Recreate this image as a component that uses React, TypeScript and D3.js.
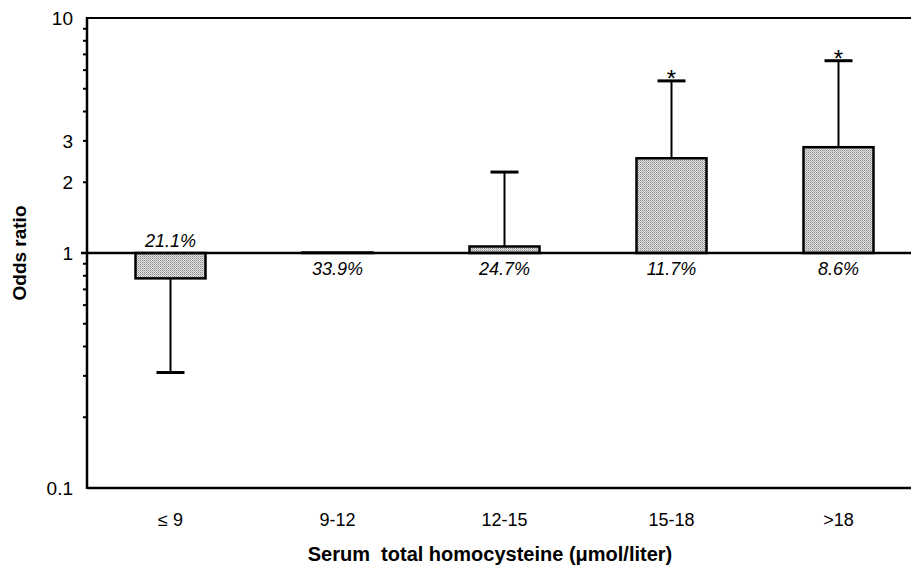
import { useEffect, useRef } from "react";
import * as d3 from "d3";

const categories = ["≤ 9", "9-12", "12-15", "15-18", ">18"];
const oddsRatios = [0.78, 1.005, 1.066, 2.53, 2.82];
const ciBounds: (number | null)[] = [0.31, null, 2.21, 5.4, 6.58];
const percents = ["21.1%", "33.9%", "24.7%", "11.7%", "8.6%"];
const significant = [false, false, false, true, true];
const labeledTicks = [10, 3, 2, 1, 0.1];
const minorTicks = [9, 8, 7, 6, 5, 4, 0.9, 0.8, 0.7, 0.6, 0.5, 0.4, 0.3, 0.2];

const width = 911;
const height = 566;
const font = "'Liberation Sans', Arial, Helvetica, sans-serif";

export default function App() {
  const svgRef = useRef<SVGSVGElement>(null);

  useEffect(() => {
    document.body.style.margin = "0";
    if (!svgRef.current) return;
    const svg = d3.select(svgRef.current);
    svg.selectAll("*").remove();

    const left = 87;
    const top = 18;
    const bottom = 488;

    const x = d3.scaleBand<string>().domain(categories).range([left, 922]).padding(0);
    const y = d3.scaleLog().domain([0.1, 10]).range([bottom, top]);
    const barW = 70;
    const cx = (c: string) => (x(c) as number) + x.bandwidth() / 2;

    // stipple pattern for bars
    const pat = svg.append("defs").append("pattern")
      .attr("id", "stipple")
      .attr("width", 2)
      .attr("height", 2)
      .attr("patternUnits", "userSpaceOnUse");
    pat.append("rect").attr("width", 2).attr("height", 2).attr("fill", "#e4e4e4");
    pat.append("rect").attr("width", 1).attr("height", 1).attr("fill", "#8a8a8a");
    pat.append("rect").attr("x", 1).attr("y", 1).attr("width", 1).attr("height", 1).attr("fill", "#b0b0b0");

    // frame lines
    svg.append("line")
      .attr("x1", left).attr("x2", width)
      .attr("y1", y(10)).attr("y2", y(10))
      .attr("stroke", "#000").attr("stroke-width", 2);
    svg.append("line")
      .attr("x1", left).attr("x2", width)
      .attr("y1", bottom).attr("y2", bottom)
      .attr("stroke", "#000").attr("stroke-width", 2.5);
    svg.append("line")
      .attr("x1", left).attr("x2", left)
      .attr("y1", top - 1).attr("y2", bottom + 1)
      .attr("stroke", "#000").attr("stroke-width", 2.5);

    // minor ticks
    svg.selectAll(".minor")
      .data(minorTicks.concat([3, 2]))
      .join("line")
      .attr("x1", left - 4).attr("x2", left)
      .attr("y1", d => y(d)).attr("y2", d => y(d))
      .attr("stroke", "#000").attr("stroke-width", 2);

    // tick labels
    svg.selectAll(".ylab")
      .data(labeledTicks)
      .join("text")
      .attr("x", 73)
      .attr("y", d => y(d))
      .attr("dy", "0.36em")
      .attr("text-anchor", "end")
      .attr("font-family", font)
      .attr("font-size", 19)
      .text(d => String(d));

    // bars
    categories.forEach((c, i) => {
      const v = oddsRatios[i];
      const y0 = y(Math.max(v, 1));
      const y1 = y(Math.min(v, 1));
      svg.append("rect")
        .attr("x", cx(c) - barW / 2)
        .attr("y", y0)
        .attr("width", barW)
        .attr("height", Math.max(y1 - y0, 0.5))
        .attr("fill", "url(#stipple)")
        .attr("stroke", "#000")
        .attr("stroke-width", 2.5);

      const ci = ciBounds[i];
      if (ci != null) {
        const yStart = v < 1 ? y1 : y0;
        svg.append("line")
          .attr("x1", cx(c)).attr("x2", cx(c))
          .attr("y1", yStart).attr("y2", y(ci))
          .attr("stroke", "#000").attr("stroke-width", 2);
        svg.append("line")
          .attr("x1", cx(c) - 14).attr("x2", cx(c) + 14)
          .attr("y1", y(ci)).attr("y2", y(ci))
          .attr("stroke", "#000").attr("stroke-width", 3);
        if (significant[i]) {
          svg.append("text")
            .attr("x", cx(c))
            .attr("y", y(ci) + 6)
            .attr("text-anchor", "middle")
            .attr("font-family", font)
            .attr("font-size", 24)
            .text("*");
        }
      }

      svg.append("text")
        .attr("x", cx(c))
        .attr("y", v < 1 ? y(1) - 6 : y(1) + 22)
        .attr("text-anchor", "middle")
        .attr("font-family", font)
        .attr("font-style", "italic")
        .attr("font-size", 18)
        .text(percents[i]);
    });

    // reference line at 1
    svg.append("line")
      .attr("x1", left - 6).attr("x2", width)
      .attr("y1", y(1)).attr("y2", y(1))
      .attr("stroke", "#000").attr("stroke-width", 2.5);

    // category labels
    svg.selectAll(".xlab")
      .data(categories)
      .join("text")
      .attr("x", d => cx(d))
      .attr("y", 526)
      .attr("text-anchor", "middle")
      .attr("font-family", font)
      .attr("font-size", 18)
      .text(d => d);

    // axis titles
    svg.append("text")
      .attr("x", 490)
      .attr("y", 561)
      .attr("text-anchor", "middle")
      .attr("font-family", font)
      .attr("font-weight", "bold")
      .attr("font-size", 20)
      .attr("xml:space", "preserve")
      .text("Serum  total homocysteine (μmol/liter)");

    svg.append("text")
      .attr("transform", `translate(26,${y(1)}) rotate(-90)`)
      .attr("text-anchor", "middle")
      .attr("font-family", font)
      .attr("font-weight", "bold")
      .attr("font-size", 19)
      .text("Odds ratio");
  }, []);

  return <svg ref={svgRef} width={width} height={height} style={{ display: "block", background: "#fff" }} />;
}
